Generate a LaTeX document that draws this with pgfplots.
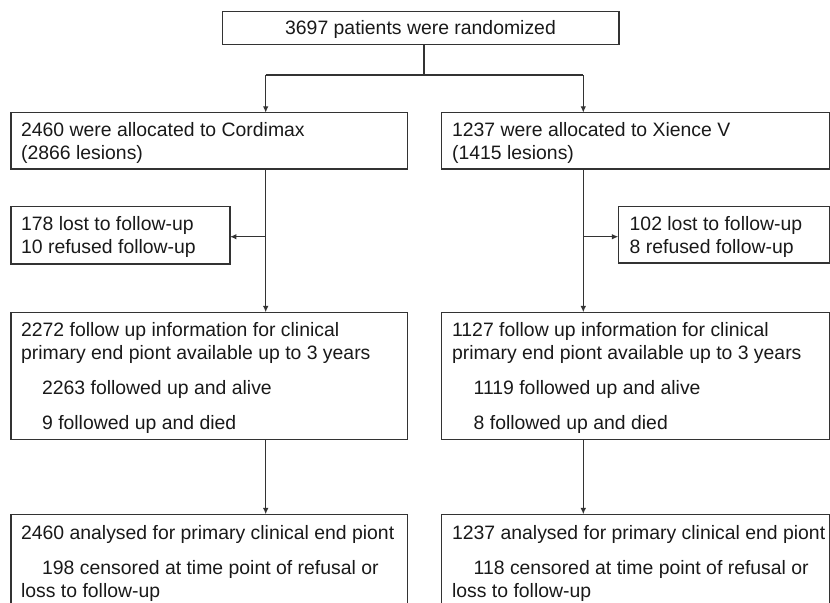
\documentclass[border=0pt]{standalone}
\usepackage{pgfplots}
\pgfplotsset{compat=1.18}
\usepackage{fontspec}
\setmainfont{Liberation Sans}
\usetikzlibrary{arrows.meta}
\tikzset{t/.style={anchor=base west,inner sep=0pt,text=black!90,font=\fontsize{9.7}{11.6}\selectfont},
bx/.style={draw=black!80,line width=0.65pt,line join=miter},
ar/.style={draw=black!80,line width=0.65pt,-{Latex[length=3.2pt,width=2.8pt]}},
ln/.style={draw=black!80,line width=0.65pt}}
\begin{document}
\begin{tikzpicture}
\begin{axis}[x=0.5pt,y=0.5pt,xmin=0,xmax=830,ymin=0,ymax=602,y dir=reverse,hide axis,clip=false,anchor=south west,at={(0,0)}]
% boxes
\addplot[bx] coordinates {(222.7,11.7) (619,11.7) (619,44.3) (222.7,44.3) (222.7,11.7) (619,11.7)};
\addplot[bx] coordinates {(11,112.7) (407.3,112.7) (407.3,169) (11,169) (11,112.7) (407.3,112.7)};
\addplot[bx] coordinates {(441.7,112.7) (829.2,112.7) (829.2,169) (441.7,169) (441.7,112.7) (829.2,112.7)};
\addplot[bx] coordinates {(11,206.7) (230,206.7) (230,264) (11,264) (11,206.7) (230,206.7)};
\addplot[bx] coordinates {(618.3,206.3) (829.2,206.3) (829.2,263) (618.3,263) (618.3,206.3) (829.2,206.3)};
\addplot[bx] coordinates {(11,312.3) (407.3,312.3) (407.3,439.3) (11,439.3) (11,312.3) (407.3,312.3)};
\addplot[bx] coordinates {(441.7,312.3) (829.2,312.3) (829.2,439.3) (441.7,439.3) (441.7,312.3) (829.2,312.3)};
\addplot[bx] coordinates {(11,620) (11,514.3) (407.3,514.3) (407.3,620)};
\addplot[bx] coordinates {(441.7,620) (441.7,514.3) (829.2,514.3) (829.2,620)};
% connectors
\addplot[ln] coordinates {(424,44.3) (424,75)};
\addplot[ln] coordinates {(265.7,75) (583.3,75)};
\addplot[ar] coordinates {(265.7,75) (265.7,112.7)};
\addplot[ar] coordinates {(583.3,75) (583.3,112.7)};
\addplot[ar] coordinates {(265.7,169) (265.7,312.3)};
\addplot[ar] coordinates {(583.3,169) (583.3,312.3)};
\addplot[ar] coordinates {(265.7,236.7) (230,236.7)};
\addplot[ar] coordinates {(583.3,236.7) (618.3,236.7)};
\addplot[ar] coordinates {(265.7,439.3) (265.7,514.3)};
\addplot[ar] coordinates {(583.3,439.3) (583.3,514.3)};
% texts
\node[t,anchor=base] at (axis cs:420.5,34.6) {3697 patients were randomized};
\node[t] at (axis cs:20.7,136.9) {2460 were allocated to Cordimax};
\node[t] at (axis cs:20.7,159.8) {(2866 lesions)};
\node[t] at (axis cs:451.7,136.9) {1237 were allocated to Xience V};
\node[t] at (axis cs:451.7,159.8) {(1415 lesions)};
\node[t] at (axis cs:20.7,230.4) {178 lost to follow-up};
\node[t] at (axis cs:20.7,253.5) {10 refused follow-up};
\node[t] at (axis cs:629.3,230.4) {102 lost to follow-up};
\node[t] at (axis cs:629.3,253.5) {8 refused follow-up};
\node[t] at (axis cs:20.7,336.3) {2272 follow up information for clinical};
\node[t] at (axis cs:20.7,359.6) {primary end piont available up to 3 years};
\node[t] at (axis cs:41.7,394.6) {2263 followed up and alive};
\node[t] at (axis cs:41.7,429.6) {9 followed up and died};
\node[t] at (axis cs:451.7,336.3) {1127 follow up information for clinical};
\node[t] at (axis cs:451.7,359.6) {primary end piont available up to 3 years};
\node[t] at (axis cs:473.3,394.6) {1119 followed up and alive};
\node[t] at (axis cs:473.3,429.6) {8 followed up and died};
\node[t] at (axis cs:20.7,539.8) {2460 analysed for primary clinical end piont};
\node[t] at (axis cs:41.7,574.8) {198 censored at time point of refusal or};
\node[t] at (axis cs:20.7,597.6) {loss to follow-up};
\node[t] at (axis cs:451.7,539.8) {1237 analysed for primary clinical end piont};
\node[t] at (axis cs:473.3,574.8) {118 censored at time point of refusal or};
\node[t] at (axis cs:451.7,597.6) {loss to follow-up};
\end{axis}
\pgfresetboundingbox
\path[use as bounding box] (0,0) rectangle (415pt,301pt);
\end{tikzpicture}
\end{document}
